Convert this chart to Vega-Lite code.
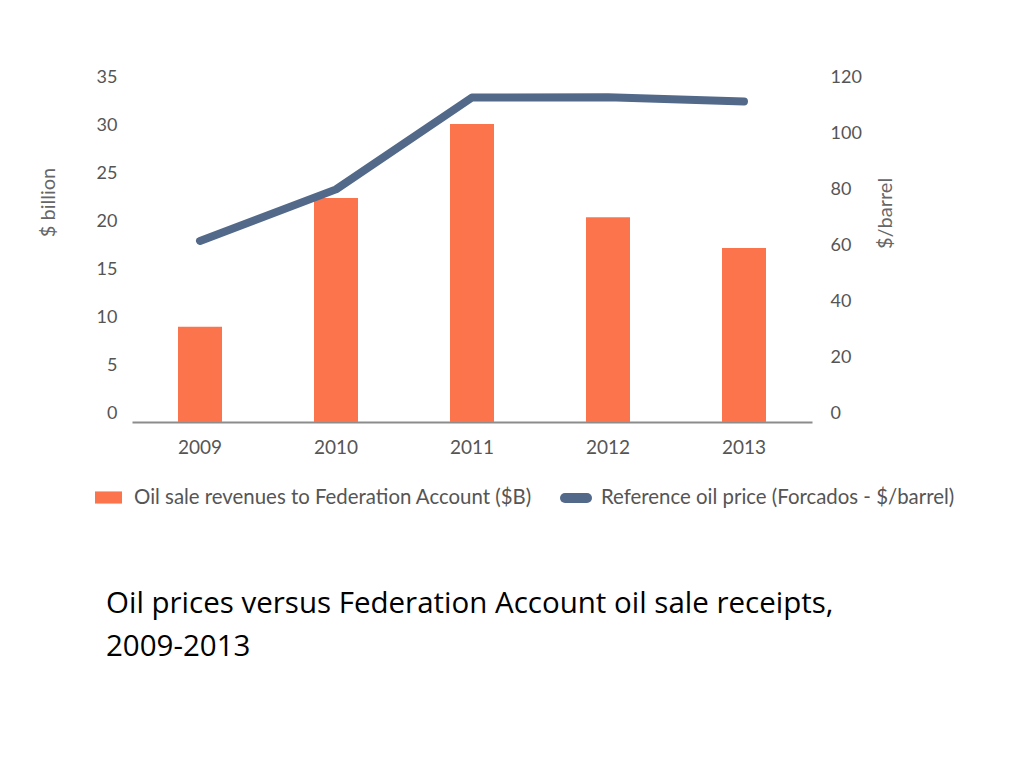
{
  "$schema": "https://vega.github.io/schema/vega-lite/v6.json",
  "width": 680,
  "height": 345,
  "autosize": {"type": "none"},
  "padding": {"left": 132, "top": 77, "right": 212, "bottom": 346},
  "background": "white",
  "config": {
    "view": {"stroke": null},
    "font": "Lato",
    "axis": {
      "labelFont": "Lato",
      "labelColor": "#555555",
      "labelFontSize": 18,
      "titleFont": "Lato",
      "titleColor": "#666666",
      "titleFontSize": 20,
      "titleFontWeight": "normal",
      "grid": false,
      "ticks": false
    },
    "legend": {
      "labelFont": "Lato",
      "labelColor": "#555555",
      "labelFontSize": 20.4,
      "labelLimit": 0,
      "padding": 0,
      "title": null
    }
  },
  "title": {
    "text": ["Oil prices versus Federation Account oil sale receipts,", "2009-2013"],
    "orient": "bottom",
    "anchor": "start",
    "frame": "group",
    "font": "Open Sans",
    "fontSize": 29.5,
    "fontWeight": "normal",
    "color": "#000000",
    "lineHeight": 43,
    "dx": -26,
    "offset": 72
  },
  "data": {
    "values": [
      {"year": "2009", "revenue": 9.0, "price": 61.5},
      {"year": "2010", "revenue": 22.4, "price": 79.9},
      {"year": "2011", "revenue": 30.1, "price": 112.7},
      {"year": "2012", "revenue": 20.4, "price": 112.8},
      {"year": "2013", "revenue": 17.2, "price": 111.3}
    ]
  },
  "encoding": {
    "x": {
      "field": "year",
      "type": "ordinal",
      "scale": {"paddingInner": 0, "paddingOuter": 0},
      "axis": {
        "title": null,
        "labelAngle": 0,
        "labelFontSize": 19,
        "labelPadding": 16,
        "domainColor": "#8c8c8c",
        "domainWidth": 2
      }
    }
  },
  "layer": [
    {
      "mark": {"type": "bar", "width": 44},
      "encoding": {
        "y": {
          "field": "revenue",
          "type": "quantitative",
          "scale": {"domain": [-0.9, 35], "nice": false, "zero": false},
          "axis": {
            "values": [0, 5, 10, 15, 20, 25, 30, 35],
            "domain": false,
            "labelPadding": 15,
            "title": "$ billion",
            "titleX": -74,
            "titleY": 125
          }
        },
        "y2": {"datum": -0.9},
        "fill": {
          "datum": "Oil sale revenues to Federation Account ($B)",
          "scale": {"range": ["#fc744b"]},
          "legend": {
            "orient": "none",
            "legendX": -37,
            "legendY": 407,
            "symbolType": "M-1,-0.45H1V0.45H-1Z",
            "symbolSize": 729,
            "symbolStrokeWidth": 0,
            "labelOffset": 12
          }
        }
      }
    },
    {
      "mark": {"type": "line", "strokeWidth": 8, "strokeCap": "round", "strokeJoin": "round"},
      "encoding": {
        "y": {
          "field": "price",
          "type": "quantitative",
          "scale": {"domain": [-3.1, 120], "nice": false, "zero": false},
          "axis": {
            "orient": "right",
            "values": [0, 20, 40, 60, 80, 100, 120],
            "domain": false,
            "labelPadding": 18,
            "title": "$/barrel",
            "titleAngle": -90,
            "titleX": 83,
            "titleY": 136
          }
        },
        "stroke": {
          "datum": "Reference oil price (Forcados - $/barrel)",
          "scale": {"range": ["#52698a"]},
          "legend": {
            "orient": "none",
            "legendX": 428,
            "legendY": 405,
            "symbolType": "stroke",
            "symbolSize": 484,
            "symbolStrokeWidth": 10,
            "labelOffset": 9,
            "encode": {"symbols": {"update": {"strokeCap": {"value": "round"}}}}
          }
        }
      }
    }
  ],
  "resolve": {"scale": {"y": "independent"}}
}
